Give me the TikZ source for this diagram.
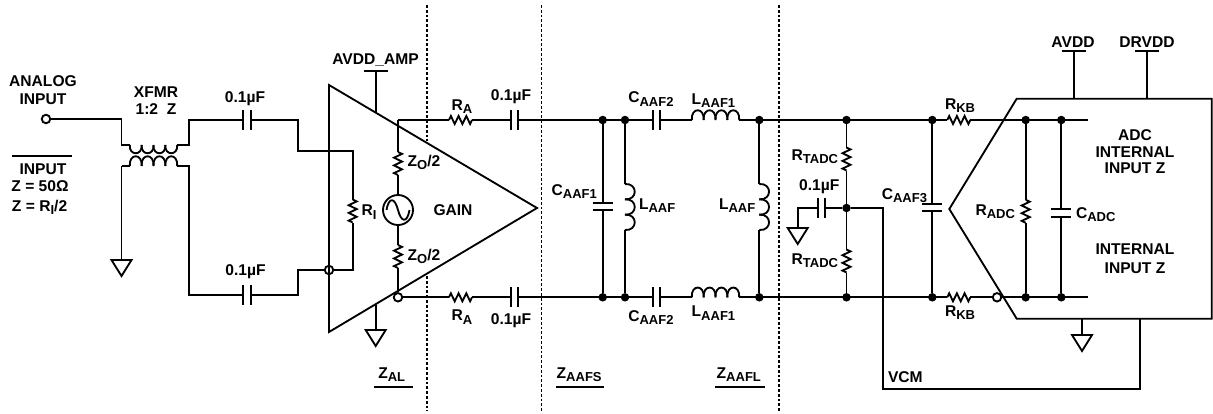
\documentclass[tikz,border=0pt]{standalone}
\usepackage{fontspec}
\setmainfont{Liberation Sans}[BoldFont={Liberation Sans Bold}]
\newcommand{\lsub}[1]{{\fontsize{13}{13}\selectfont\raisebox{-3.6pt}{#1}}}
\begin{document}
\begin{tikzpicture}[x=1pt,y=-1pt,line join=miter,
  wire/.style={draw=black,line width=1.85pt},
  lbl/.style={inner sep=0pt,outer sep=0pt,font=\fontsize{15.6}{15.6}\selectfont\bfseries},
  lblw/.style={lbl,anchor=base west},
  lble/.style={lbl,anchor=base east},
  dot/.style={circle,fill=black,draw=none,minimum size=8.5pt,inner sep=0pt},
  term/.style={circle,fill=white,draw=black,line width=1.85pt,minimum size=8.5pt,inner sep=0pt},
  bound/.style={draw=black,line width=1.85pt,dash pattern=on 2.8pt off 2pt},
  pics/resh/.style={code={
    \fill[white] (-11.5,-1.5) rectangle (11.5,1.5);
    \draw[wire] (-11.5,0)--(-9.6,-4)--(-5.8,4)--(-1.9,-4)--(1.9,4)--(5.8,-4)--(9.6,4)--(11.5,0);}},
  pics/resv/.style={code={
    \fill[white] (-1.5,-11.5) rectangle (1.5,11.5);
    \draw[wire] (0,-11.5)--(4,-9.6)--(-4,-5.8)--(4,-1.9)--(-4,1.9)--(4,5.8)--(-4,9.6)--(0,11.5);}},
  pics/caph/.style={code={
    \fill[white] (-3.6,-1.5) rectangle (3.6,1.5);
    \draw[wire] (-3.6,-10)--(-3.6,10) (3.6,-10)--(3.6,10);}},
  pics/capv/.style={code={
    \fill[white] (-1.5,-3.6) rectangle (1.5,3.6);
    \draw[wire] (-10,-3.6)--(10,-3.6) (-10,3.6)--(10,3.6);}},
  pics/gnd/.style={code={\draw[wire] (-10,0)--(10,0)--(0,16)--cycle;}},
  pics/rail/.style={code={\draw[wire] (-12,0)--(12,0);}},
  pics/coilup/.style={code={
    \fill[white] (-23.7,-1.5) rectangle (23.7,1.5);
    \foreach \k in {0,1,2,3}{
      \draw[wire] ({-23.7+11.85*\k},0) .. controls ({-24.7+11.85*\k},-13) and ({-10.85+11.85*\k},-13) .. ({-11.85+11.85*\k},0);}}},
  pics/coildown/.style={code={
    \fill[white] (-23.7,-1.5) rectangle (23.7,1.5);
    \foreach \k in {0,1,2,3}{
      \draw[wire] ({-23.7+11.85*\k},0) .. controls ({-24.7+11.85*\k},11) and ({-10.85+11.85*\k},11) .. ({-11.85+11.85*\k},0);}}},
  pics/coilv/.style={code={
    \fill[white] (-1.5,-23) rectangle (1.5,23);
    \foreach \k in {0,1,2}{
      \draw[wire] (0,{-23+15.33*\k}) .. controls (13,{-24+15.33*\k}) and (13,{-6.67+15.33*\k}) .. (0,{-7.67+15.33*\k});}}}
]
\useasboundingbox (0,0) rectangle (1213,413);

% boundaries
\coordinate (b1t) at (427,5);  \coordinate (b1m) at (427,141);
\coordinate (b1n) at (427,276); \coordinate (b1b) at (427,411);
\coordinate (b2t) at (541.5,5);\coordinate (b2b) at (541.5,411);
\coordinate (b3t) at (779.3,5);\coordinate (b3b) at (779.3,411);
\draw[bound] (b1t)--(b1m);
\draw[bound] (b1n)--(b1b);
\draw[bound] (b2t)--(b2b);
\draw[bound] (b3t)--(b3b);

% input side
\node[term] (in) at (46,119) {};
\coordinate (p1l) at (121.5,145); \coordinate (p1r) at (189,145);
\coordinate (p2l) at (121.5,166); \coordinate (p2r) at (189,166);
\coordinate (gnd1) at (121.5,260);
\coordinate (rit) at (352.7,151); \coordinate (rib) at (352.7,270);
\node[term] (inn) at (329,270) {};
\draw[wire] (in.east) -- (121.5,119) -- (p1l) -- (p1r) -- (189,120) -- (298,120) -- (298,151) -- (rit) -- (rib) -- (inn.east);
\draw[wire] (p2l) -- (p2r) -- (189,295) -- (298,295) -- (298,270) -- (inn.west);
\draw[wire] (p2l) -- (gnd1);
\pic at (gnd1) {gnd};
\pic at (153.5,145) {coildown};
\pic at (153.5,166) {coilup};
\pic at (247,120) {caph};
\pic at (247,295) {caph};
\pic at (352.7,211) {resv};

% amplifier
\coordinate (ta) at (329,85); \coordinate (tb) at (537,208); \coordinate (tc) at (329,332);
\draw[wire] (ta)--(tb)--(tc)--cycle;
\coordinate (ampv) at (375.7,71); \coordinate (ampvb) at (375.7,112.5);
\draw[wire] (ampv)--(ampvb);
\pic at (ampv) {rail};
\draw[wire] (375.7,305)--(375.7,330);
\pic at (375.7,330) {gnd};

% output lines
\coordinate (otop) at (398,120); \coordinate (adctop) at (1088,120); \coordinate (adcbot) at (1088,297.3);
\node[term] (obot) at (398,297.3) {};
\draw[wire] (otop)--(adctop);
\draw[wire] (obot.east)--(adcbot);
\node[circle,draw=black,line width=1.85pt,fill=white,minimum size=30pt,inner sep=0pt] (src) at (398,210) {};
\draw[wire] (otop)--(src.north);
\draw[wire] (src.south)--(obot.north);
\draw[wire] (386.5,210) .. controls (389,196) and (395,198) .. (398,210) .. controls (401,222) and (407,224) .. (409.5,210);
\pic at (398,163.5) {resv};
\pic at (398,256.5) {resv};
\pic at (460.5,120) {resh};
\pic at (460.5,297.3) {resh};
\pic at (514.5,120) {caph};
\pic at (514.5,297.3) {caph};

% filter
\node[dot] (d1t) at (602.7,120) {}; \node[dot] (d1b) at (602.7,297.3) {};
\node[dot] (d2t) at (625,120) {};   \node[dot] (d2b) at (625,297.3) {};
\node[dot] (d3t) at (759.3,120) {}; \node[dot] (d3b) at (759.3,297.3) {};
\node[dot] (d4t) at (846.5,120) {}; \node[dot] (d4b) at (846.5,297.3) {};
\node[dot] (d4m) at (846.5,208) {};
\draw[wire] (d1t)--(d1b);
\draw[wire] (d2t)--(d2b);
\draw[wire] (d3t)--(d3b);
\draw[wire] (d4t)--(d4b);
\pic at (602.7,206.5) {capv};
\pic at (625,207) {coilv};
\pic at (759.3,207) {coilv};
\pic at (656.4,120) {caph};
\pic at (656.4,297.3) {caph};
\pic at (715.5,120) {coilup};
\pic at (715.5,297.3) {coilup};
\pic at (846.5,159) {resv};
\pic at (846.5,261) {resv};
\coordinate (g2) at (797.7,228);
\draw[wire] (d4m)--(797.7,208)--(g2);
\pic at (g2) {gnd};
\pic at (821.4,208) {caph};

% VCM
\coordinate (adcvcm) at (1140,318.7);
\draw[wire] (d4m)--(883,208)--(883,389)--(1140,389)--(adcvcm);

% ADC
\node[dot] (d5t) at (932.3,120) {}; \node[dot] (d5b) at (932.3,297.3) {};
\node[dot] (d6t) at (1025.7,120) {}; \node[dot] (d6b) at (1025.7,297.3) {};
\node[dot] (d7t) at (1061.3,120) {}; \node[dot] (d7b) at (1061.3,297.3) {};
\draw[wire] (d5t)--(d5b);
\draw[wire] (d6t)--(d6b);
\draw[wire] (d7t)--(d7b);
\pic at (932.3,207.5) {capv};
\pic at (1061.3,213) {capv};
\pic at (1025.7,211.3) {resv};
\pic at (958.8,120) {resh};
\pic at (958.8,297.3) {resh};
\coordinate (ad1) at (1016.7,98.7); \coordinate (ad2) at (1211.7,98.7); \coordinate (ad3) at (1211.7,318.7);
\coordinate (ad4) at (1016.7,318.7); \coordinate (ad5) at (949.3,209);
\draw[wire] (ad1)--(ad2)--(ad3)--(ad4)--(ad5)--cycle;
\node[term] (adcin) at (997,297.3) {};
\coordinate (avdd) at (1073.7,50.7); \coordinate (drvdd) at (1147.3,50.7);
\draw[wire] (avdd)--(1073.7,98.7);
\draw[wire] (drvdd)--(1147.3,98.7);
\pic at (avdd) {rail};
\pic at (drvdd) {rail};
\coordinate (g3) at (1082,335);
\draw[wire] (1082,318.7)--(g3);
\pic at (g3) {gnd};

% overlines and underlines
\coordinate (ol1) at (12,155.7); \coordinate (ol2) at (72,155.7);
\draw[wire] (ol1)--(ol2);
\draw[wire] (374,387)--(412.5,387);
\draw[wire] (556,387)--(604,387);
\draw[wire] (715,387)--(765,387);

% labels
\node[lbl] (t1) at (43,81) {ANALOG};
\node[lbl] (t2) at (43,99) {INPUT};
\node[lbl] (t3) at (156,92) {XFMR};
\node[lbl] (t4) at (156,109) {1:2\ \ Z};
\node[lbl] (t5) at (245,99) {0.1µF};
\node[lbl] (t6) at (245.5,272) {0.1µF};
\node[lbl] (t7) at (43,169) {INPUT};
\node[lbl] (t8) at (40,186) {Z = 50Ω};
\node[lblw] (t9) at (12,211) {Z = R\lsub{I}/2};
\node[lblw] (t10) at (361.7,215.7) {R\lsub{I}};
\node[lblw] (t11) at (407.7,166) {Z\lsub{O}/2};
\node[lblw] (t12) at (407.7,260) {Z\lsub{O}/2};
\node[lbl] (t13) at (453,210) {GAIN};
\node[lbl] (t14) at (375.5,60) {AVDD\_AMP};
\node[lblw] (t15) at (451.7,110) {R\lsub{A}};
\node[lblw] (t16) at (451.7,320.7) {R\lsub{A}};
\node[lbl] (t17) at (511,97) {0.1µF};
\node[lbl] (t18) at (511,321) {0.1µF};
\node[lblw] (t19) at (551.7,195) {C\lsub{AAF1}};
\node[lblw] (t20) at (628.3,102.7) {C\lsub{AAF2}};
\node[lblw] (t21) at (628.3,321) {C\lsub{AAF2}};
\node[lblw] (t22) at (691.7,104) {L\lsub{AAF1}};
\node[lblw] (t23) at (691.7,316.7) {L\lsub{AAF1}};
\node[lblw] (t24) at (639,209) {L\lsub{AAF}};
\node[lblw] (t25) at (719,209) {L\lsub{AAF}};
\node[lblw] (t26) at (791.7,160) {R\lsub{TADC}};
\node[lblw] (t27) at (791.7,264.3) {R\lsub{TADC}};
\node[lbl] (t28) at (819.3,187) {0.1µF};
\node[lble] (t29) at (927,199) {C\lsub{AAF3}};
\node[lblw] (t30) at (945,109) {R\lsub{KB}};
\node[lblw] (t31) at (945,316) {R\lsub{KB}};
\node[lble] (t32) at (1015,215) {R\lsub{ADC}};
\node[lblw] (t33) at (1076,218) {C\lsub{ADC}};
\node[lbl] (t34) at (1073,42) {AVDD};
\node[lbl] (t35) at (1147,42) {DRVDD};
\node[lbl] (t36) at (1135,135) {ADC};
\node[lbl] (t37) at (1135,152) {INTERNAL};
\node[lbl] (t38) at (1135,168) {INPUT Z};
\node[lbl] (t39) at (1135,249) {INTERNAL};
\node[lbl] (t40) at (1135,268) {INPUT Z};
\node[lblw] (t41) at (888,382) {VCM};
\node[lblw] (t42) at (378.3,378) {Z\lsub{AL}};
\node[lblw] (t43) at (556.7,378) {Z\lsub{AAFS}};
\node[lblw] (t44) at (716.7,378) {Z\lsub{AAFL}};
\end{tikzpicture}
\end{document}
